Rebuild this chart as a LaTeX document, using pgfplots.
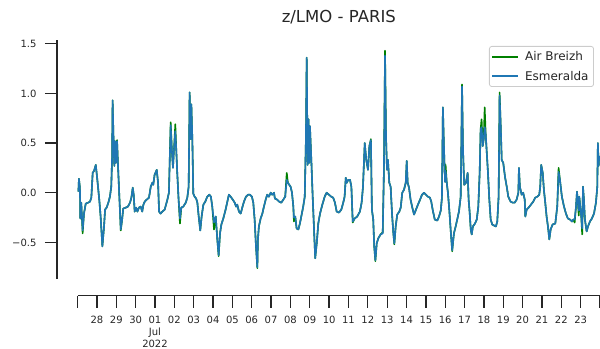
\documentclass[border=0pt]{standalone}
\usepackage{fontspec}
\setmainfont{DejaVu Sans}
\usepackage{pgfplots}
\usepackage{pgfplotstable}
\pgfplotsset{compat=1.18}

\definecolor{mplgreen}{HTML}{008000}
\definecolor{mplblue}{HTML}{1F77B4}
\definecolor{inkgray}{HTML}{262626}

% Esmeralda: x = days since 27 June 2022 00:00, y = z/LMO
\pgfplotstableread{
d v
0.04 0.01
0.07 0.14
0.12 0.05
0.14 -0.26
0.19 -0.10
0.26 -0.38
0.33 -0.21
0.42 -0.11
0.54 -0.10
0.64 -0.09
0.71 -0.05
0.78 0.20
0.85 0.22
0.94 0.28
1.02 0.13
1.12 -0.07
1.19 -0.24
1.28 -0.54
1.36 -0.36
1.42 -0.17
1.50 -0.15
1.59 -0.10
1.67 -0.04
1.74 0.06
1.78 0.33
1.81 0.93
1.87 0.43
1.90 0.27
1.93 0.52
1.98 0.30
2.04 0.52
2.09 0.27
2.12 0.13
2.18 -0.14
2.23 -0.37
2.29 -0.29
2.36 -0.16
2.49 -0.15
2.60 -0.14
2.71 -0.10
2.78 -0.05
2.85 0.05
2.90 -0.02
2.95 -0.19
3.02 -0.15
3.09 -0.19
3.17 -0.15
3.26 -0.14
3.34 -0.19
3.40 -0.12
3.47 -0.09
3.57 -0.07
3.69 -0.05
3.78 0.06
3.86 0.10
3.91 0.08
3.98 0.18
4.09 0.23
4.16 0.10
4.21 -0.19
4.29 -0.21
4.38 -0.19
4.50 -0.17
4.64 -0.07
4.72 0.00
4.81 0.68
4.88 0.40
4.93 0.25
4.98 0.43
5.05 0.62
5.10 0.43
5.15 0.20
5.22 -0.07
5.29 -0.26
5.36 -0.15
5.46 -0.14
5.59 -0.10
5.67 -0.05
5.74 0.06
5.79 1.01
5.85 0.54
5.88 0.89
5.93 0.54
5.98 -0.01
6.05 -0.04
6.13 -0.06
6.19 -0.10
6.26 -0.24
6.34 -0.38
6.41 -0.24
6.50 -0.12
6.60 -0.09
6.70 -0.04
6.81 -0.02
6.89 -0.04
6.96 -0.14
7.05 -0.30
7.14 -0.24
7.22 -0.47
7.29 -0.63
7.36 -0.41
7.43 -0.32
7.53 -0.26
7.65 -0.17
7.74 -0.09
7.82 -0.02
7.91 -0.04
8.02 -0.07
8.12 -0.10
8.19 -0.14
8.25 -0.12
8.34 -0.19
8.43 -0.21
8.51 -0.15
8.60 -0.09
8.70 -0.04
8.81 -0.02
8.91 -0.02
9.01 -0.04
9.08 -0.10
9.15 -0.27
9.22 -0.54
9.29 -0.75
9.32 -0.47
9.37 -0.34
9.46 -0.26
9.55 -0.21
9.63 -0.14
9.72 -0.07
9.80 -0.02
9.89 -0.04
9.98 0.00
10.06 -0.02
10.15 0.00
10.20 -0.06
10.32 -0.07
10.42 -0.09
10.53 -0.10
10.63 -0.07
10.73 -0.04
10.81 0.13
10.87 0.10
10.94 0.08
11.01 0.06
11.08 0.00
11.15 -0.14
11.18 -0.25
11.25 -0.24
11.32 -0.36
11.41 -0.37
11.49 -0.31
11.58 -0.22
11.66 -0.14
11.74 -0.04
11.80 0.54
11.84 1.36
11.89 0.28
11.94 0.74
11.97 0.30
12.01 0.67
12.08 0.33
12.15 -0.04
12.22 -0.37
12.28 -0.66
12.36 -0.51
12.44 -0.31
12.53 -0.21
12.65 -0.12
12.77 -0.04
12.87 0.00
12.99 -0.02
13.11 -0.04
13.21 -0.05
13.30 -0.10
13.39 -0.19
13.51 -0.20
13.63 -0.17
13.73 -0.10
13.80 -0.04
13.86 0.15
13.91 0.10
13.99 0.13
14.08 0.13
14.15 0.06
14.22 -0.29
14.32 -0.26
14.45 -0.24
14.59 -0.19
14.68 -0.10
14.75 0.06
14.84 0.50
14.92 0.33
15.01 0.23
15.08 0.47
15.16 0.53
15.21 -0.17
15.28 -0.27
15.33 -0.54
15.39 -0.68
15.46 -0.51
15.54 -0.46
15.66 -0.42
15.77 -0.41
15.83 0.20
15.89 1.38
15.94 0.57
15.99 0.23
16.04 0.33
16.11 0.10
16.18 0.06
16.25 -0.21
16.32 -0.41
16.37 -0.51
16.44 -0.34
16.52 -0.22
16.63 -0.19
16.70 -0.15
16.78 0.00
16.87 0.03
16.96 0.10
17.01 0.32
17.06 0.10
17.13 0.05
17.21 -0.07
17.30 -0.15
17.39 -0.22
17.49 -0.17
17.59 -0.12
17.70 -0.07
17.80 -0.02
17.90 0.00
18.01 -0.02
18.11 -0.04
18.21 -0.05
18.28 -0.09
18.35 -0.17
18.46 -0.27
18.59 -0.28
18.68 -0.24
18.77 -0.18
18.83 -0.05
18.88 0.86
18.94 0.43
18.99 0.11
19.02 0.22
19.08 0.10
19.14 0.00
19.21 -0.17
19.28 -0.37
19.36 -0.58
19.45 -0.41
19.54 -0.34
19.62 -0.27
19.71 -0.19
19.80 -0.04
19.87 1.07
19.92 0.43
19.98 0.08
20.07 0.10
20.16 0.20
20.21 -0.07
20.26 -0.19
20.32 -0.37
20.37 -0.42
20.43 -0.34
20.54 -0.31
20.63 -0.27
20.71 -0.14
20.78 0.20
20.83 0.64
20.88 0.66
20.94 0.47
20.99 0.54
21.04 0.66
21.09 0.60
21.14 0.43
21.21 0.20
21.28 -0.07
21.35 -0.27
21.43 -0.32
21.52 -0.33
21.62 -0.34
21.69 -0.29
21.76 -0.04
21.81 0.98
21.87 0.67
21.92 0.33
22.00 0.30
22.09 0.16
22.18 0.06
22.26 -0.04
22.38 -0.09
22.49 -0.10
22.59 -0.10
22.69 -0.07
22.78 0.00
22.81 0.25
22.86 0.06
22.95 -0.02
23.03 0.00
23.11 -0.07
23.14 -0.24
23.21 -0.17
23.31 -0.15
23.43 -0.12
23.55 -0.09
23.65 -0.05
23.76 -0.04
23.86 -0.02
23.91 0.06
23.96 0.28
24.04 0.20
24.10 0.03
24.17 -0.10
24.24 -0.24
24.31 -0.34
24.38 -0.47
24.45 -0.37
24.55 -0.32
24.69 -0.31
24.79 -0.14
24.86 0.21
24.93 0.13
25.03 -0.04
25.14 -0.14
25.24 -0.21
25.34 -0.26
25.45 -0.27
25.55 -0.29
25.62 -0.27
25.69 -0.27
25.76 -0.14
25.81 0.01
25.86 -0.10
25.90 -0.18
25.93 -0.04
25.98 -0.14
26.03 -0.24
26.08 -0.36
26.12 0.06
26.17 -0.07
26.22 -0.27
26.31 -0.39
26.38 -0.34
26.48 -0.29
26.58 -0.26
26.69 -0.21
26.79 -0.10
26.86 0.06
26.89 0.50
26.93 0.27
26.96 0.37
}\esmeralda

% Air Breizh: same time base
\pgfplotstableread{
d v
0.04 0.01
0.07 0.14
0.12 0.05
0.14 -0.26
0.19 -0.10
0.26 -0.41
0.33 -0.21
0.42 -0.11
0.54 -0.10
0.64 -0.09
0.71 -0.05
0.78 0.20
0.85 0.22
0.94 0.28
1.02 0.13
1.12 -0.07
1.19 -0.24
1.28 -0.54
1.36 -0.36
1.42 -0.17
1.50 -0.15
1.59 -0.10
1.67 -0.04
1.74 0.06
1.78 0.33
1.81 0.93
1.87 0.43
1.90 0.27
1.93 0.52
1.98 0.30
2.04 0.53
2.09 0.27
2.12 0.13
2.18 -0.14
2.23 -0.38
2.29 -0.29
2.36 -0.16
2.49 -0.15
2.60 -0.14
2.71 -0.10
2.78 -0.05
2.85 0.05
2.90 -0.02
2.95 -0.19
3.02 -0.15
3.09 -0.19
3.17 -0.15
3.26 -0.14
3.34 -0.19
3.40 -0.12
3.47 -0.09
3.57 -0.07
3.69 -0.05
3.78 0.06
3.86 0.10
3.91 0.08
3.98 0.18
4.09 0.23
4.16 0.10
4.21 -0.19
4.29 -0.21
4.38 -0.19
4.50 -0.17
4.64 -0.07
4.72 0.00
4.81 0.71
4.88 0.40
4.93 0.25
4.98 0.43
5.05 0.69
5.10 0.43
5.15 0.20
5.22 -0.07
5.29 -0.31
5.36 -0.15
5.46 -0.14
5.59 -0.10
5.67 -0.05
5.74 0.06
5.79 1.01
5.85 0.54
5.88 0.89
5.93 0.54
5.98 -0.01
6.05 -0.04
6.13 -0.06
6.19 -0.10
6.26 -0.24
6.34 -0.38
6.41 -0.24
6.50 -0.12
6.60 -0.09
6.70 -0.04
6.81 -0.02
6.89 -0.04
6.96 -0.14
7.05 -0.37
7.14 -0.24
7.22 -0.47
7.29 -0.64
7.36 -0.41
7.43 -0.32
7.53 -0.26
7.65 -0.17
7.74 -0.09
7.82 -0.02
7.91 -0.04
8.02 -0.07
8.12 -0.10
8.19 -0.14
8.25 -0.12
8.34 -0.19
8.43 -0.21
8.51 -0.15
8.60 -0.09
8.70 -0.04
8.81 -0.02
8.91 -0.02
9.01 -0.04
9.08 -0.10
9.15 -0.27
9.22 -0.54
9.29 -0.76
9.32 -0.47
9.37 -0.34
9.46 -0.26
9.55 -0.21
9.63 -0.14
9.72 -0.07
9.80 -0.02
9.89 -0.04
9.98 0.00
10.06 -0.02
10.15 0.00
10.20 -0.06
10.32 -0.07
10.42 -0.09
10.53 -0.10
10.63 -0.07
10.73 -0.04
10.81 0.20
10.87 0.10
10.94 0.08
11.01 0.06
11.08 0.00
11.15 -0.14
11.18 -0.29
11.25 -0.24
11.32 -0.36
11.41 -0.37
11.49 -0.31
11.58 -0.22
11.66 -0.14
11.74 -0.04
11.80 0.54
11.84 1.36
11.89 0.28
11.94 0.74
11.97 0.30
12.01 0.67
12.08 0.33
12.15 -0.04
12.22 -0.37
12.28 -0.66
12.36 -0.51
12.44 -0.31
12.53 -0.21
12.65 -0.12
12.77 -0.04
12.87 0.00
12.99 -0.02
13.11 -0.04
13.21 -0.05
13.30 -0.10
13.39 -0.19
13.51 -0.20
13.63 -0.17
13.73 -0.10
13.80 -0.04
13.86 0.15
13.91 0.10
13.99 0.13
14.08 0.13
14.15 0.06
14.22 -0.30
14.32 -0.26
14.45 -0.24
14.59 -0.19
14.68 -0.10
14.75 0.06
14.84 0.50
14.92 0.33
15.01 0.23
15.08 0.47
15.16 0.54
15.21 -0.17
15.28 -0.27
15.33 -0.54
15.39 -0.69
15.46 -0.51
15.54 -0.46
15.66 -0.42
15.77 -0.40
15.83 0.20
15.89 1.43
15.94 0.57
15.99 0.23
16.04 0.33
16.11 0.10
16.18 0.06
16.25 -0.21
16.32 -0.41
16.37 -0.52
16.44 -0.34
16.52 -0.22
16.63 -0.19
16.70 -0.15
16.78 0.00
16.87 0.03
16.96 0.10
17.01 0.32
17.06 0.10
17.13 0.05
17.21 -0.07
17.30 -0.15
17.39 -0.22
17.49 -0.17
17.59 -0.12
17.70 -0.07
17.80 -0.02
17.90 0.00
18.01 -0.02
18.11 -0.04
18.21 -0.05
18.28 -0.09
18.35 -0.17
18.46 -0.27
18.59 -0.28
18.68 -0.24
18.77 -0.18
18.83 -0.05
18.88 0.86
18.94 0.43
18.99 0.11
19.02 0.28
19.08 0.10
19.14 0.00
19.21 -0.17
19.28 -0.37
19.36 -0.59
19.45 -0.41
19.54 -0.34
19.62 -0.27
19.71 -0.19
19.80 -0.04
19.87 1.09
19.92 0.43
19.98 0.08
20.07 0.10
20.16 0.20
20.21 -0.07
20.26 -0.19
20.32 -0.37
20.37 -0.42
20.43 -0.34
20.54 -0.31
20.63 -0.27
20.71 -0.14
20.78 0.20
20.83 0.64
20.88 0.74
20.94 0.47
20.99 0.54
21.04 0.86
21.09 0.60
21.14 0.43
21.21 0.20
21.28 -0.07
21.35 -0.27
21.43 -0.32
21.52 -0.33
21.62 -0.34
21.69 -0.29
21.76 -0.04
21.81 1.01
21.87 0.67
21.92 0.33
22.00 0.30
22.09 0.16
22.18 0.06
22.26 -0.04
22.38 -0.09
22.49 -0.10
22.59 -0.10
22.69 -0.07
22.78 0.00
22.81 0.25
22.86 0.06
22.95 -0.02
23.03 0.00
23.11 -0.07
23.14 -0.24
23.21 -0.17
23.31 -0.15
23.43 -0.12
23.55 -0.09
23.65 -0.05
23.76 -0.04
23.86 -0.02
23.91 0.06
23.96 0.28
24.04 0.20
24.10 0.03
24.17 -0.10
24.24 -0.24
24.31 -0.34
24.38 -0.47
24.45 -0.37
24.55 -0.32
24.69 -0.31
24.79 -0.14
24.86 0.25
24.93 0.13
25.03 -0.04
25.14 -0.14
25.24 -0.21
25.34 -0.26
25.45 -0.27
25.55 -0.29
25.62 -0.27
25.69 -0.30
25.76 -0.14
25.81 0.01
25.86 -0.10
25.90 -0.23
25.93 -0.04
25.98 -0.14
26.03 -0.24
26.08 -0.42
26.12 0.06
26.17 -0.07
26.22 -0.27
26.31 -0.39
26.38 -0.34
26.48 -0.29
26.58 -0.26
26.69 -0.21
26.79 -0.10
26.86 0.06
26.89 0.50
26.93 0.27
26.96 0.37
}\airbreizh

\begin{document}
\begin{tikzpicture}
\useasboundingbox (-77.6bp,-70bp) rectangle (522.4bp,279bp);
% offset y spine with its ticks and labels, as its own narrow axis
\begin{axis}[
  at={(-20.6bp,0bp)}, anchor=south west,
  scale only axis, width=1bp, height=239bp,
  xmin=0, xmax=1, ymin=-0.869, ymax=1.538,
  hide x axis,
  axis y line*=left,
  axis line style={draw=inkgray, line width=1.3bp, -},
  tick align=outside, major tick length=12bp,
  tick style={draw=inkgray, line width=1.3bp},
  ytick={-0.5,0,0.5,1,1.5},
  yticklabels={−0.5,0.0,0.5,1.0,1.5},
  yticklabel style={xshift=-5bp, font=\fontsize{10bp}{12bp}\selectfont, text=inkgray},
]
\end{axis}
% main axis: data, offset x spine, title, legend
\begin{axis}[
  at={(0,0)}, anchor=south west,
  scale only axis, width=522.4bp, height=239bp,
  xmin=0, xmax=27, ymin=-0.869, ymax=1.538,
  hide y axis,
  axis x line*=bottom,
  axis x line shift=16.7bp,
  axis line style={draw=inkgray, line width=1.3bp, -},
  tick align=outside, major tick length=12bp,
  tick style={draw=inkgray, line width=1.3bp},
  xtick={0,...,27},
  xticklabels={,28,29,30,{01\\Jul\\2022},02,03,04,05,06,07,08,09,10,11,12,13,14,15,16,17,18,19,20,21,22,23,},
  xticklabel style={yshift=-4.5bp, font=\fontsize{10bp}{12.4bp}\selectfont, text=inkgray, align=center},
  title={z/LMO - PARIS},
  title style={at={(0.5,1)}, anchor=base, yshift=11.3bp, inner sep=0pt,
    font=\fontsize{16.5bp}{20bp}\selectfont, text=inkgray},
  legend cell align=left,
  legend style={at={(0.9885,0.975)}, anchor=north east,
    draw=black!20, line width=0.8bp, rounded corners=2.5bp, fill=white,
    font=\fontsize{12bp}{14bp}\selectfont, text=inkgray,
    inner xsep=2bp, inner ysep=1bp, row sep=1bp,
    nodes={inner xsep=3bp, inner ysep=4bp}},
  legend image code/.code={
    \draw[#1, line width=1.8bp] (0bp,0bp) -- (26bp,0bp);
    \path (29bp,0bp);},
]
\addplot[mplgreen, line width=1.6bp, line join=round, no markers] table[x=d, y=v] {\airbreizh};
\addlegendentry{Air Breizh}
\addplot[mplblue, line width=1.6bp, line join=round, no markers] table[x=d, y=v] {\esmeralda};
\addlegendentry{Esmeralda}
\end{axis}
\end{tikzpicture}
\end{document}
